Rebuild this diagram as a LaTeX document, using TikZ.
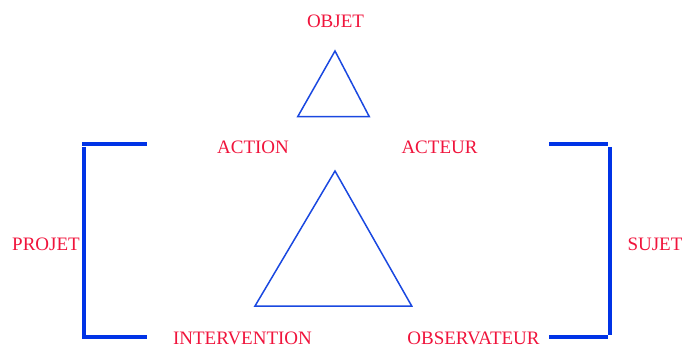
\documentclass[tikz,border=0pt]{standalone}
\usepackage{fontspec}
\setmainfont{Liberation Serif}
\definecolor{labelred}{RGB}{240,20,60}
\definecolor{bracketblue}{RGB}{0,51,230}
\definecolor{triblue}{RGB}{26,72,224}
\begin{document}
\begin{tikzpicture}[x=1pt, y=-1pt,
    lbl/.style={text=labelred, font=\fontsize{19}{21}\selectfont, anchor=base, inner sep=0pt, text depth=0pt},
    bracketline/.style={draw=bracketblue, line width=4pt},
    triline/.style={draw=triblue, line width=1.5pt, line join=miter}]
    % page = reference size (682 x 347 px)
    \useasboundingbox (0,0) rectangle (682,347);

    % labels
    \node[lbl] (objet) at (335.5,28) {OBJET};
    \node[lbl] (action) at (253,154) {ACTION};
    \node[lbl] (acteur) at (439.5,154) {ACTEUR};
    \node[lbl] (projet) at (46,251) {PROJET};
    \node[lbl] (sujet) at (655,251) {SUJET};
    \node[lbl] (intervention) at (242.5,344.5) {INTERVENTION};
    \node[lbl] (observateur) at (473.5,344.5) {OBSERVATEUR};

    % small triangle
    \coordinate (sTop) at (335,51);
    \coordinate (sLeft) at (297.7,116.7);
    \coordinate (sRight) at (369.3,116.7);
    \draw[triline] (sTop) -- (sLeft) -- (sRight) -- cycle;

    % large triangle
    \coordinate (bTop) at (335,171);
    \coordinate (bLeft) at (255,306);
    \coordinate (bRight) at (411.7,306);
    \draw[triline] (bTop) -- (bLeft) -- (bRight) -- cycle;

    % left bracket (PROJET)
    \draw[bracketline] (82,144) -- (147,144);
    \draw[bracketline] (84,147) -- (84,337) -- (147,337);

    % right bracket (SUJET)
    \draw[bracketline] (549,144) -- (608,144);
    \draw[bracketline] (610,147) -- (610,335);
    \draw[bracketline] (549,337) -- (608,337);
\end{tikzpicture}
\end{document}
